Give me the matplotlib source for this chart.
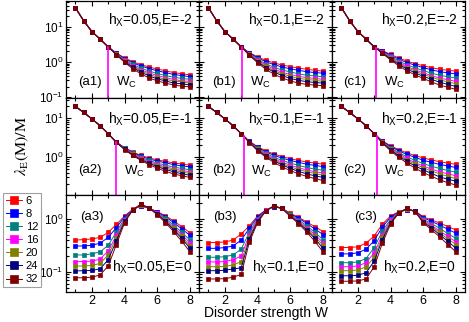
import matplotlib
matplotlib.use("Agg")
import matplotlib.pyplot as plt
import matplotlib.transforms as mtransforms
from matplotlib.ticker import LogLocator, NullFormatter, MultipleLocator

plt.rcParams['font.family'] = ['Liberation Sans', 'DejaVu Sans']
plt.rcParams['mathtext.fontset'] = 'custom'
plt.rcParams['mathtext.rm'] = 'Liberation Sans'
plt.rcParams['mathtext.it'] = 'Liberation Sans:italic'
plt.rcParams['mathtext.bf'] = 'Liberation Sans:bold'
plt.rcParams['mathtext.sf'] = 'Liberation Sans'

# ---------------- data ----------------
W = [1, 1.5, 2, 2.5, 3, 3.5, 4, 4.5, 5, 5.5, 6, 6.5, 7, 7.5, 8]
sizes = ['6', '8', '12', '16', '20', '24', '32']
colors = ['#FF0000', '#0000FF', '#008080', '#FF00FF', '#808000', '#000080', '#800000']

# row 1 : E=-2
a1 = [
    [35, 15, 7.4, 4.5, 2.7, 1.80, 1.30, 1.02, 0.84, 0.72, 0.63, 0.56, 0.50, 0.46, 0.43],
    [35, 15, 7.4, 4.5, 2.7, 1.77, 1.25, 0.95, 0.77, 0.65, 0.56, 0.50, 0.44, 0.41, 0.38],
    [35, 15, 7.4, 4.5, 2.7, 1.72, 1.17, 0.85, 0.67, 0.55, 0.47, 0.41, 0.37, 0.34, 0.32],
    [35, 15, 7.4, 4.5, 2.7, 1.69, 1.11, 0.79, 0.60, 0.49, 0.41, 0.36, 0.32, 0.29, 0.28],
    [35, 15, 7.4, 4.5, 2.7, 1.66, 1.07, 0.74, 0.56, 0.44, 0.37, 0.32, 0.29, 0.27, 0.25],
    [35, 15, 7.4, 4.5, 2.7, 1.63, 1.03, 0.70, 0.51, 0.40, 0.33, 0.29, 0.25, 0.24, 0.22],
    [35, 15, 7.4, 4.5, 2.7, 1.60, 0.98, 0.64, 0.46, 0.35, 0.29, 0.25, 0.22, 0.205, 0.195],
]
b1 = [
    [35, 15, 7.4, 4.5, 2.7, 1.85, 1.40, 1.12, 0.94, 0.82, 0.74, 0.67, 0.62, 0.58, 0.55],
    [35, 15, 7.4, 4.5, 2.7, 1.80, 1.32, 1.02, 0.84, 0.72, 0.64, 0.58, 0.53, 0.50, 0.48],
    [35, 15, 7.4, 4.5, 2.7, 1.73, 1.21, 0.89, 0.71, 0.59, 0.52, 0.46, 0.42, 0.40, 0.38],
    [35, 15, 7.4, 4.5, 2.7, 1.68, 1.13, 0.81, 0.63, 0.51, 0.44, 0.39, 0.36, 0.34, 0.32],
    [35, 15, 7.4, 4.5, 2.7, 1.64, 1.08, 0.75, 0.57, 0.46, 0.39, 0.34, 0.32, 0.30, 0.28],
    [35, 15, 7.4, 4.5, 2.7, 1.60, 1.02, 0.69, 0.52, 0.41, 0.34, 0.30, 0.275, 0.26, 0.25],
    [35, 15, 7.4, 4.5, 2.7, 1.55, 0.95, 0.62, 0.45, 0.35, 0.29, 0.25, 0.23, 0.22, 0.21],
]
c1 = [
    [35, 15, 7.4, 4.5, 2.7, 2.10, 1.65, 1.30, 1.06, 0.90, 0.78, 0.69, 0.62, 0.58, 0.55],
    [35, 15, 7.4, 4.5, 2.7, 2.04, 1.56, 1.20, 0.96, 0.81, 0.69, 0.60, 0.53, 0.49, 0.46],
    [35, 15, 7.4, 4.5, 2.7, 1.95, 1.44, 1.07, 0.83, 0.68, 0.57, 0.48, 0.42, 0.38, 0.35],
    [35, 15, 7.4, 4.5, 2.7, 1.90, 1.35, 0.98, 0.75, 0.60, 0.49, 0.41, 0.35, 0.31, 0.28],
    [35, 15, 7.4, 4.5, 2.7, 1.85, 1.29, 0.92, 0.69, 0.55, 0.44, 0.37, 0.31, 0.27, 0.24],
    [35, 15, 7.4, 4.5, 2.7, 1.81, 1.22, 0.86, 0.63, 0.49, 0.39, 0.32, 0.265, 0.23, 0.20],
    [35, 15, 7.4, 4.5, 2.7, 1.75, 1.15, 0.78, 0.56, 0.43, 0.34, 0.27, 0.22, 0.19, 0.165],
]
# row 2 : E=-1
a2 = [
    [20, 14, 9.6, 6.4, 4.0, 2.4, 1.75, 1.35, 1.10, 0.95, 0.85, 0.77, 0.71, 0.66, 0.62],
    [20, 14, 9.6, 6.4, 4.0, 2.4, 1.73, 1.31, 1.05, 0.89, 0.79, 0.71, 0.64, 0.59, 0.56],
    [20, 14, 9.6, 6.4, 4.0, 2.4, 1.67, 1.25, 0.98, 0.82, 0.70, 0.62, 0.55, 0.51, 0.47],
    [20, 14, 9.6, 6.4, 4.0, 2.4, 1.64, 1.21, 0.94, 0.76, 0.65, 0.56, 0.50, 0.45, 0.42],
    [20, 14, 9.6, 6.4, 4.0, 2.4, 1.61, 1.17, 0.90, 0.72, 0.61, 0.52, 0.46, 0.41, 0.38],
    [20, 14, 9.6, 6.4, 4.0, 2.4, 1.58, 1.14, 0.86, 0.69, 0.57, 0.48, 0.42, 0.37, 0.34],
    [20, 14, 9.6, 6.4, 4.0, 2.4, 1.55, 1.10, 0.82, 0.64, 0.52, 0.43, 0.37, 0.33, 0.30],
]
b2 = [
    [20, 14, 9.6, 6.4, 4.0, 2.55, 1.85, 1.45, 1.20, 1.03, 0.91, 0.82, 0.75, 0.70, 0.66],
    [20, 14, 9.6, 6.4, 4.0, 2.52, 1.78, 1.37, 1.11, 0.94, 0.82, 0.73, 0.66, 0.61, 0.57],
    [20, 14, 9.6, 6.4, 4.0, 2.47, 1.69, 1.26, 0.99, 0.82, 0.70, 0.61, 0.54, 0.49, 0.46],
    [20, 14, 9.6, 6.4, 4.0, 2.44, 1.62, 1.18, 0.91, 0.74, 0.62, 0.53, 0.47, 0.42, 0.39],
    [20, 14, 9.6, 6.4, 4.0, 2.41, 1.57, 1.13, 0.86, 0.68, 0.56, 0.48, 0.42, 0.38, 0.34],
    [20, 14, 9.6, 6.4, 4.0, 2.38, 1.52, 1.07, 0.80, 0.63, 0.51, 0.43, 0.37, 0.33, 0.30],
    [20, 14, 9.6, 6.4, 4.0, 2.35, 1.45, 1.00, 0.73, 0.56, 0.45, 0.37, 0.32, 0.28, 0.25],
]
c2 = [
    [20, 14, 9.6, 6.4, 4.0, 2.60, 1.95, 1.55, 1.28, 1.09, 0.95, 0.84, 0.76, 0.70, 0.65],
    [20, 14, 9.6, 6.4, 4.0, 2.55, 1.87, 1.45, 1.17, 0.98, 0.83, 0.73, 0.65, 0.59, 0.54],
    [20, 14, 9.6, 6.4, 4.0, 2.48, 1.74, 1.30, 1.02, 0.82, 0.68, 0.58, 0.51, 0.45, 0.41],
    [20, 14, 9.6, 6.4, 4.0, 2.43, 1.66, 1.21, 0.92, 0.72, 0.59, 0.49, 0.42, 0.37, 0.33],
    [20, 14, 9.6, 6.4, 4.0, 2.39, 1.59, 1.14, 0.85, 0.66, 0.53, 0.44, 0.37, 0.32, 0.28],
    [20, 14, 9.6, 6.4, 4.0, 2.35, 1.53, 1.07, 0.78, 0.59, 0.47, 0.38, 0.31, 0.27, 0.24],
    [20, 14, 9.6, 6.4, 4.0, 2.30, 1.45, 0.98, 0.70, 0.52, 0.40, 0.32, 0.26, 0.22, 0.19],
]
# row 3 : E=0
a3 = [
    [0.40, 0.41, 0.42, 0.45, 0.56, 0.79, 1.14, 1.52, 1.76, 1.60, 1.38, 1.15, 0.92, 0.72, 0.55],
    [0.31, 0.31, 0.32, 0.35, 0.45, 0.69, 1.09, 1.51, 1.77, 1.60, 1.35, 1.10, 0.86, 0.65, 0.49],
    [0.21, 0.21, 0.22, 0.24, 0.32, 0.57, 1.02, 1.50, 1.82, 1.61, 1.31, 1.03, 0.77, 0.56, 0.40],
    [0.157, 0.158, 0.16, 0.175, 0.25, 0.49, 0.97, 1.50, 1.85, 1.61, 1.28, 0.97, 0.71, 0.51, 0.35],
    [0.13, 0.13, 0.133, 0.145, 0.21, 0.44, 0.93, 1.49, 1.87, 1.61, 1.26, 0.94, 0.67, 0.47, 0.31],
    [0.105, 0.106, 0.107, 0.115, 0.17, 0.39, 0.90, 1.49, 1.89, 1.62, 1.23, 0.90, 0.63, 0.43, 0.28],
    [0.078, 0.078, 0.08, 0.088, 0.13, 0.33, 0.85, 1.48, 1.92, 1.62, 1.20, 0.85, 0.58, 0.38, 0.24],
]
b3 = [
    [0.36, 0.36, 0.37, 0.40, 0.52, 0.75, 1.14, 1.48, 1.70, 1.59, 1.28, 1.08, 0.88, 0.72, 0.58],
    [0.28, 0.28, 0.29, 0.31, 0.40, 0.67, 1.09, 1.47, 1.71, 1.59, 1.25, 1.04, 0.83, 0.65, 0.51],
    [0.19, 0.19, 0.195, 0.21, 0.27, 0.57, 1.02, 1.46, 1.73, 1.59, 1.22, 0.97, 0.75, 0.56, 0.41],
    [0.155, 0.155, 0.158, 0.17, 0.20, 0.51, 0.97, 1.45, 1.74, 1.58, 1.19, 0.93, 0.69, 0.51, 0.36],
    [0.126, 0.126, 0.128, 0.136, 0.157, 0.46, 0.93, 1.44, 1.75, 1.58, 1.17, 0.89, 0.65, 0.47, 0.32],
    [0.106, 0.106, 0.108, 0.114, 0.12, 0.42, 0.90, 1.43, 1.76, 1.58, 1.14, 0.86, 0.62, 0.43, 0.28],
    [0.074, 0.074, 0.075, 0.08, 0.09, 0.37, 0.85, 1.42, 1.78, 1.58, 1.12, 0.82, 0.57, 0.38, 0.24],
]
c3 = [
    [0.29, 0.29, 0.30, 0.35, 0.48, 0.80, 1.14, 1.37, 1.48, 1.42, 1.10, 0.96, 0.84, 0.72, 0.62],
    [0.22, 0.22, 0.23, 0.27, 0.39, 0.71, 1.08, 1.36, 1.50, 1.41, 1.06, 0.90, 0.77, 0.64, 0.54],
    [0.15, 0.15, 0.155, 0.18, 0.29, 0.59, 0.99, 1.35, 1.52, 1.40, 0.99, 0.82, 0.67, 0.53, 0.43],
    [0.126, 0.126, 0.13, 0.15, 0.23, 0.51, 0.94, 1.34, 1.54, 1.40, 0.95, 0.76, 0.60, 0.47, 0.37],
    [0.106, 0.106, 0.109, 0.125, 0.19, 0.46, 0.89, 1.33, 1.56, 1.39, 0.91, 0.72, 0.56, 0.42, 0.33],
    [0.085, 0.085, 0.087, 0.097, 0.16, 0.41, 0.85, 1.32, 1.58, 1.39, 0.88, 0.68, 0.51, 0.38, 0.28],
    [0.067, 0.067, 0.068, 0.074, 0.126, 0.35, 0.80, 1.30, 1.60, 1.38, 0.84, 0.63, 0.46, 0.33, 0.24],
]

panels = [[a1, b1, c1], [a2, b2, c2], [a3, b3, c3]]
panel_tags = [['(a1)', '(b1)', '(c1)'], ['(a2)', '(b2)', '(c2)'], ['(a3)', '(b3)', '(c3)']]
hx_labels = ['0.05', '0.1', '0.2']
E_labels = ['-2', '-1', '0']
Wc = [[3.0, 3.07, 3.13], [3.5, 3.15, 3.15]]
Wc_top = [[2.7, 2.6, 2.55], [2.4, 3.45, 3.45]]
ylims = [(0.094, 55), (0.106, 33), (0.042, 2.84)]

# ---------------- figure ----------------
fig = plt.figure(figsize=(4.69, 3.22), dpi=100)
L, R = 66 / 469, 465 / 469
Tp, Bt = 1 - 1 / 322, 1 - 292 / 322
cw = (R - L) / 3
rh = (Tp - Bt) / 3

axes = [[None] * 3 for _ in range(3)]
for r in range(3):
    for c in range(3):
        sharex = axes[0][0] if (r or c) else None
        sharey = axes[r][0] if c else None
        ax = fig.add_axes([L + c * cw, Tp - (r + 1) * rh, cw, rh], sharex=sharex, sharey=sharey)
        axes[r][c] = ax
        data = panels[r][c]
        for k in range(len(sizes)):
            ax.plot(W, data[k], '-s', color=colors[k], lw=0.7, ms=3.0, mec=colors[k],
                    mew=0.5, label=sizes[k])
        ax.set_yscale('log')
        ax.set_xlim(0.42, 8.55)
        ax.set_ylim(*ylims[r])
        ax.xaxis.set_major_locator(MultipleLocator(2))
        ax.xaxis.set_minor_locator(MultipleLocator(1))
        ax.yaxis.set_major_locator(LogLocator(base=10, numticks=10))
        ax.yaxis.set_minor_locator(LogLocator(base=10, subs=range(2, 10), numticks=20))
        ax.yaxis.set_minor_formatter(NullFormatter())
        ax.tick_params(which='both', direction='in', top=True, right=True, labelsize=8.5,
                       width=0.8, pad=2)
        ax.tick_params(which='major', length=3.5)
        ax.tick_params(which='minor', length=2)
        ax.tick_params(axis='x', labelsize=9)
        for s in ax.spines.values():
            s.set_linewidth(0.9)
        if c != 0:
            ax.tick_params(labelleft=False)
        if r != 2:
            ax.tick_params(labelbottom=False)

        label = r'h$_{\mathrm{X}}$=' + hx_labels[c] + ',E=' + E_labels[r]
        if r < 2:
            ax.text(0.95, 0.80 if r == 0 else 0.78, label, transform=ax.transAxes,
                    ha='right', va='center', fontsize=10)
            ax.text([0.09, 0.10, 0.08][c], 0.165 if r == 0 else 0.26, panel_tags[r][c],
                    transform=ax.transAxes, ha='left', va='center', fontsize=9.5)
            ax.plot([Wc[r][c], Wc[r][c]], [ylims[r][0], Wc_top[r][c]], color='#FF00FF', lw=1.2)
            tr = mtransforms.blended_transform_factory(ax.transData, ax.transAxes)
            ax.text(Wc[r][c] + 0.45, 0.16 if r == 0 else 0.24, r'W$_{\mathrm{C}}$', transform=tr,
                    ha='left', va='center', fontsize=9.5)
        else:
            ax.text([0.346, 0.40, 0.38][c], 0.25, label, transform=ax.transAxes,
                    ha='left', va='center', fontsize=10)
            ax.text([0.105, 0.105, 0.17][c], 0.77, panel_tags[r][c],
                    transform=ax.transAxes, ha='left', va='center', fontsize=9.5)

fig.text(22 / 469, 1 - 146 / 322, r'$\lambda_{\mathrm{E}}\mathrm{(M)/M}$', rotation=90,
         ha='center', va='center', fontsize=11.5, math_fontfamily='stix')
fig.text((L + R) / 2, 1 - 313 / 322, 'Disorder strength W', ha='center', va='center', fontsize=10)

handles, labels = axes[2][0].get_legend_handles_labels()
leg = fig.legend(handles, labels, loc='upper left', bbox_to_anchor=(3 / 469, 1 - 193 / 322),
                 fontsize=8, frameon=True, fancybox=False, edgecolor='#888888',
                 handlelength=1.5, handletextpad=0.3, labelspacing=0.28, borderpad=0.25,
                 borderaxespad=0.0, markerscale=1.7)
leg.get_frame().set_linewidth(0.8)

fig.savefig('out.png', dpi=100)
